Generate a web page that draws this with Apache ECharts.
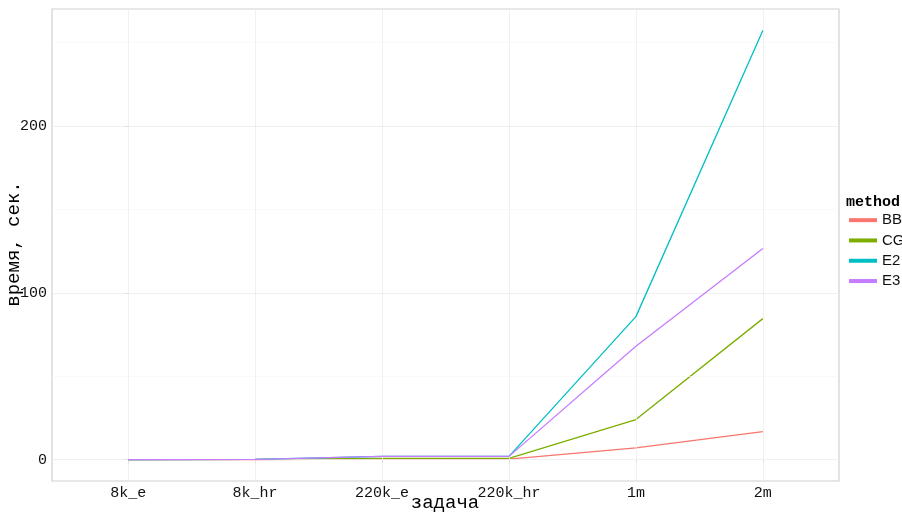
<!DOCTYPE html>
<html>
<head>
<meta charset="utf-8">
<script src="https://cdn.jsdelivr.net/npm/echarts@6/dist/echarts.min.js"></script>
<style>html,body{margin:0;padding:0;background:#fff}#c{width:902px;height:514px}</style>
</head>
<body>
<div id="c"></div>
<script>
const categories = ['8k_e', '8k_hr', '220k_e', '220k_hr', '1m', '2m'];
const methods = ['BB', 'CG', 'E2', 'E3'];
const BB = [0, 0, 0.3, 0.3, 7, 16.8];
const CG = [0, 0.05, 0.7, 0.7, 24, 84.5];
const E2 = [0, 0.1, 1.9, 1.9, 85.7, 257.3];
const E3 = [0, 0.1, 1.9, 1.9, 68, 126.5];
const yTicks = [0, 100, 200];
const yMinor = [50, 150, 250];
const colors = ['#F8766D', '#7CAE00', '#00BFC4', '#C77CFF'];

const values = [BB, CG, E2, E3];
const dataMax = Math.max(...values.flat());
const dataMin = Math.min(...values.flat());
const yPad = (dataMax - dataMin) * 0.05;
const xIdx = categories.map((_, i) => i);

const mono = 'Liberation Mono';
const chart = echarts.init(document.getElementById('c'), null, {renderer: 'canvas'});

const gridLines = [];
xIdx.forEach(i => gridLines.push({xAxis: i, lineStyle: {color: '#ececec', width: 0.8, type: 'solid'}}));
yTicks.forEach(v => gridLines.push({yAxis: v, lineStyle: {color: '#ececec', width: 0.8, type: 'solid'}}));
yMinor.forEach(v => gridLines.push({yAxis: v, lineStyle: {color: '#f5f5f5', width: 0.6, type: 'solid'}}));

const series = [{
  type: 'line', name: '_grid', data: [], silent: true, z: 1,
  markLine: {silent: true, symbol: ['none', 'none'], label: {show: false}, animation: false, data: gridLines}
}];
methods.forEach((m, k) => {
  series.push({
    type: 'line', name: m, z: 3 + k,
    data: values[k].map((v, i) => [i, v]),
    showSymbol: false, symbol: 'none',
    lineStyle: {color: colors[k], width: 1.3},
    itemStyle: {color: colors[k]},
    animation: false
  });
});

chart.setOption({
  backgroundColor: '#ffffff',
  animation: false,
  grid: {left: 52, right: 63, top: 9, bottom: 33, show: true, borderColor: '#d0d0d0', borderWidth: 1.2, backgroundColor: 'transparent'},
  xAxis: {
    type: 'value', min: -0.6, max: categories.length - 1 + 0.6,
    axisLine: {show: false},
    splitLine: {show: false},
    axisTick: {show: true, length: 4, lineStyle: {color: '#b3b3b3'}, customValues: xIdx},
    axisLabel: {customValues: xIdx, formatter: v => categories[Math.round(v)] || '', color: '#111', fontFamily: mono, fontSize: 15, margin: 5}
  },
  yAxis: {
    type: 'value', min: dataMin - yPad, max: dataMax + yPad,
    axisLine: {show: false},
    splitLine: {show: false},
    axisTick: {show: true, length: 4, lineStyle: {color: '#b3b3b3'}, customValues: yTicks},
    axisLabel: {customValues: yTicks, color: '#111', fontFamily: mono, fontSize: 15, margin: 5}
  },
  legend: {
    data: methods, orient: 'vertical', left: 844, top: 207,
    icon: 'rect', itemWidth: 28, itemHeight: 4, itemGap: 4,
    textStyle: {fontFamily: 'Liberation Sans', fontSize: 15, color: '#111', lineHeight: 16.3},
    selectedMode: false
  },
  graphic: [
    {type: 'text', left: 846, top: 195, style: {text: 'method', font: 'bold 15px "Liberation Mono"', fill: '#000'}},
    {type: 'text', x: 445, y: 503, style: {text: 'задача', font: '19px "Liberation Mono"', fill: '#000', align: 'center', verticalAlign: 'middle'}},
    {type: 'text', x: 14, y: 244, rotation: Math.PI / 2, style: {text: 'время, сек.', font: '19px "Liberation Mono"', fill: '#000', align: 'center', verticalAlign: 'middle'}}
  ],
  series: series
});
</script>
</body>
</html>
